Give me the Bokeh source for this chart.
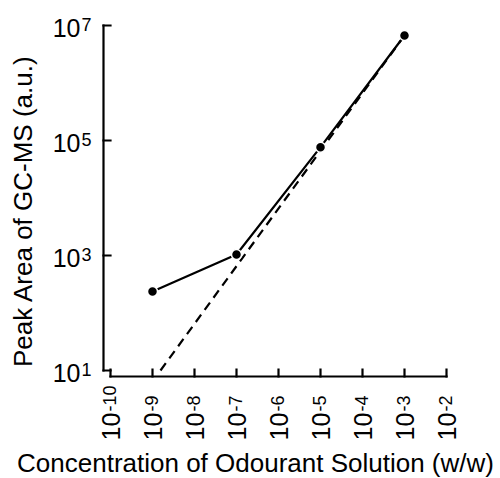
import math
from bokeh.plotting import figure
from bokeh.models import Range1d
from bokeh.core.properties import value
from bokeh.embed import file_html
from bokeh.resources import INLINE

# Data
concentration = [1e-9, 1e-7, 1e-5, 1e-3]
peak_area = [237, 1040, 7.65e4, 6.7e6]
fit_concentration = [1.55e-9, 1e-3]
fit_peak_area = [10, 6.7e6]
x_ticks = [1e-10, 1e-9, 1e-8, 1e-7, 1e-6, 1e-5, 1e-4, 1e-3, 1e-2]
y_ticks = [1e1, 1e3, 1e5, 1e7]
x_title = "Concentration of Odourant Solution (w/w)"
y_title = "Peak Area of GC-MS (a.u.)"

FONT = "Liberation Sans"
BASE_SIZE = "25px"
EXP_SIZE = "18px"
TITLE_SIZE = "26px"
LW = 2.2

# Page layout (pixels): the whole canvas is the plotting frame, the axes are drawn by hand
W, H = 500, 478
X_ORIGIN_PX, X_PX_PER_DEC, X_ORIGIN_LOG = 110, 42, -10      # 1e-10 sits at x = 110 px
Y_ORIGIN_PX, Y_PX_PER_DEC, Y_ORIGIN_LOG = 370, 57.5, 1      # 1e1 sits at y = 370 px


def fx(px):
    """page x pixel -> data x"""
    return 10 ** (X_ORIGIN_LOG + (px - X_ORIGIN_PX) / X_PX_PER_DEC)


def fy(py):
    """page y pixel (downwards) -> data y"""
    return 10 ** (Y_ORIGIN_LOG + (Y_ORIGIN_PX - py) / Y_PX_PER_DEC)


p = figure(
    width=W, height=H,
    x_axis_type="log", y_axis_type="log",
    x_range=Range1d(fx(0), fx(W)), y_range=Range1d(fy(H), fy(0)),
    x_axis_location=None, y_axis_location=None,
    output_backend="svg", toolbar_location=None,
    min_border=0,
)
p.outline_line_color = None
p.grid.visible = False
p.background_fill_color = "white"

# --- axes, drawn from the tick lists ---
Y_AXIS_PX, X_AXIS_PX, TICK = 103, 376, 7
x_lo, x_hi = min(x_ticks), max(x_ticks)
y_lo, y_hi = min(y_ticks), max(y_ticks)
p.segment(x0=[fx(Y_AXIS_PX)], y0=[y_lo], x1=[fx(Y_AXIS_PX)], y1=[y_hi],
          line_color="black", line_width=LW, line_cap="square")
p.segment(x0=[x_lo], y0=[fy(X_AXIS_PX)], x1=[x_hi], y1=[fy(X_AXIS_PX)],
          line_color="black", line_width=LW, line_cap="square")
p.segment(x0=[fx(Y_AXIS_PX)] * len(y_ticks), y0=y_ticks,
          x1=[fx(Y_AXIS_PX + TICK)] * len(y_ticks), y1=y_ticks,
          line_color="black", line_width=LW, line_cap="square")
p.segment(x0=x_ticks, y0=[fy(X_AXIS_PX)] * len(x_ticks),
          x1=x_ticks, y1=[fy(X_AXIS_PX - TICK)] * len(x_ticks),
          line_color="black", line_width=LW, line_cap="square")

# y tick labels: "10" + superscript exponent
y_exp = [str(int(round(math.log10(t)))) for t in y_ticks]
p.text(x=[fx(80)] * len(y_ticks), y=y_ticks, text=["10"] * len(y_ticks), y_offset=2.5,
       text_align="right", text_baseline="alphabetic",
       text_font=value(FONT), text_font_size=BASE_SIZE, text_color="black")
p.text(x=[fx(81)] * len(y_ticks), y=y_ticks, text=y_exp, y_offset=-1.4,
       text_align="left", text_baseline="alphabetic",
       text_font=value(FONT), text_font_size=EXP_SIZE, text_color="black")

# x tick labels: rotated, reading upwards
x_exp = [str(int(round(math.log10(t)))) for t in x_ticks]
p.text(x=x_ticks, y=[fy(440)] * len(x_ticks), text=["10"] * len(x_ticks),
       angle=math.pi / 2, x_offset=0, text_align="left", text_baseline="alphabetic",
       text_font=value(FONT), text_font_size=BASE_SIZE, text_color="black")
p.text(x=x_ticks, y=[fy(411)] * len(x_ticks), text=x_exp,
       angle=math.pi / 2, x_offset=-0.9, text_align="left", text_baseline="alphabetic",
       text_font=value(FONT), text_font_size=EXP_SIZE, text_color="black")

# axis titles
p.text(x=[fx(255)], y=[fy(462.7)], text=[x_title],
       text_align="center", text_baseline="alphabetic",
       text_font=value(FONT), text_font_size=TITLE_SIZE, text_color="black")
p.text(x=[fx(22.7)], y=[fy(210.5)], text=[y_title], angle=math.pi / 2,
       text_align="center", text_baseline="alphabetic",
       text_font=value(FONT), text_font_size=TITLE_SIZE, text_color="black")

# --- data ---
p.line(fit_concentration, fit_peak_area, line_color="black", line_width=LW, line_dash="9 6")
p.line(concentration, peak_area, line_color="black", line_width=LW)
p.scatter(concentration, peak_area, size=10, fill_color="black", line_color="white", line_width=1.5)

open("out.html", "w").write(file_html(p, INLINE))
